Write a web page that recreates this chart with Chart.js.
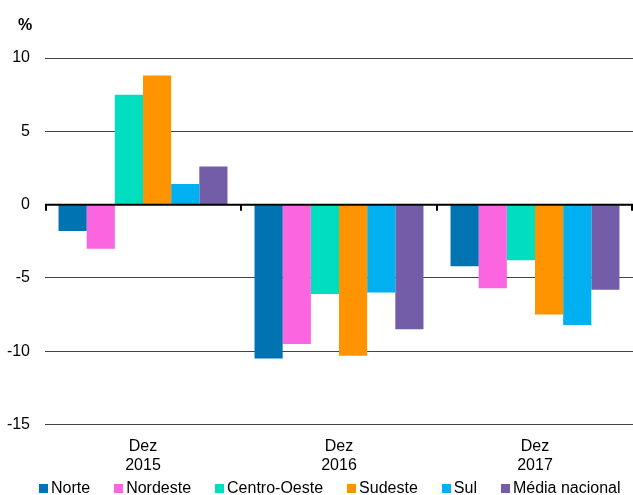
<!DOCTYPE html>
<html>
<head>
<meta charset="utf-8">
<script src="https://cdn.jsdelivr.net/npm/chart.js@4.4.1/dist/chart.umd.min.js"></script>
<style>
  body { margin: 0; background: #fff; font-family: "Liberation Sans", Arial, sans-serif; }
  #wrap { position: relative; width: 633px; height: 495px; }
  #unit { position: absolute; left: 18px; top: 16px; font-size: 16px; font-weight: bold; color: #000; }
  #legend { position: absolute; left: 39px; top: 479px; display: flex; font-size: 16px; color: #000; white-space: nowrap; }
  #legend .item { margin-right: 24px; }
  #legend .box { display: inline-block; width: 9px; height: 9px; margin-right: 3px; }
</style>
</head>
<body>
<div id="wrap">
  <canvas id="chart" width="633" height="495"></canvas>
  <div id="unit">%</div>
  <div id="legend"></div>
</div>
<script>
const categorias = [["Dez", "2015"], ["Dez", "2016"], ["Dez", "2017"]];
const regioes = ["Norte", "Nordeste", "Centro-Oeste", "Sudeste", "Sul", "Média nacional"];
const norte = [-1.8, -10.5, -4.2];
const nordeste = [-3.0, -9.5, -5.7];
const centroOeste = [7.5, -6.1, -3.8];
const sudeste = [8.8, -10.3, -7.5];
const sul = [1.4, -6.0, -8.2];
const mediaNacional = [2.6, -8.5, -5.8];
const cores = ["#0073b3", "#fb66e0", "#00dec0", "#ff9400", "#00b0f0", "#735ca8"];
const yTicks = [10, 5, 0, -5, -10, -15];

const valores = [norte, nordeste, centroOeste, sudeste, sul, mediaNacional];

// marcas pequenas no eixo zero, entre as categorias
const zeroTicks = {
  id: "zeroTicks",
  afterDatasetsDraw(chart) {
    const x = chart.scales.x;
    const y = chart.scales.y;
    const ctx = chart.ctx;
    const y0 = y.getPixelForValue(0);
    const half = (x.getPixelForValue(1) - x.getPixelForValue(0)) / 2;
    ctx.save();
    ctx.strokeStyle = "#000";
    ctx.lineWidth = 2;
    ctx.beginPath();
    ctx.moveTo(chart.chartArea.left, y0);
    ctx.lineTo(chart.chartArea.right, y0);
    ctx.stroke();
    for (let i = 0; i <= categorias.length; i++) {
      let px = Math.round(x.getPixelForValue(i) - half);
      px = Math.min(Math.max(px, chart.chartArea.left + 1), chart.chartArea.right - 1);
      ctx.beginPath();
      ctx.moveTo(px, y0);
      ctx.lineTo(px, y0 + 6);
      ctx.stroke();
    }
    ctx.restore();
  },
};

const ctx = document.getElementById("chart").getContext("2d");
new Chart(ctx, {
  type: "bar",
  data: {
    labels: categorias,
    datasets: regioes.map((r, i) => ({
      label: r,
      data: valores[i],
      backgroundColor: cores[i],
      borderWidth: 0,
      barPercentage: 1,
      categoryPercentage: 0.862,
    })),
  },
  options: {
    responsive: false,
    animation: false,
    layout: { padding: { top: 58, bottom: 16, left: 0, right: 0 } },
    plugins: { legend: { display: false }, tooltip: { enabled: false } },
    scales: {
      x: {
        grid: { display: false },
        border: { display: false },
        ticks: {
          color: "#000",
          padding: 4,
          maxRotation: 0,
          font: { family: "'Liberation Sans', Arial", size: 16, lineHeight: 1.2 },
        },
      },
      y: {
        min: -15,
        max: 10,
        afterFit: (s) => { s.width = 45; },
        afterBuildTicks: (s) => { s.ticks = yTicks.map((v) => ({ value: v })); },
        border: { display: false },
        grid: {
          drawTicks: false,
          color: (c) => (c.tick && c.tick.value === 0 ? "rgba(0,0,0,0)" : "#444"),
          lineWidth: 1,
        },
        ticks: {
          color: "#000",
          padding: 15,
          font: { family: "'Liberation Sans', Arial", size: 16 },
        },
      },
    },
  },
  plugins: [zeroTicks],
});

const leg = document.getElementById("legend");
regioes.forEach((r, i) => {
  const it = document.createElement("span");
  it.className = "item";
  it.innerHTML = '<span class="box" style="background:' + cores[i] + '"></span>' + r;
  leg.appendChild(it);
});
</script>
</body>
</html>
